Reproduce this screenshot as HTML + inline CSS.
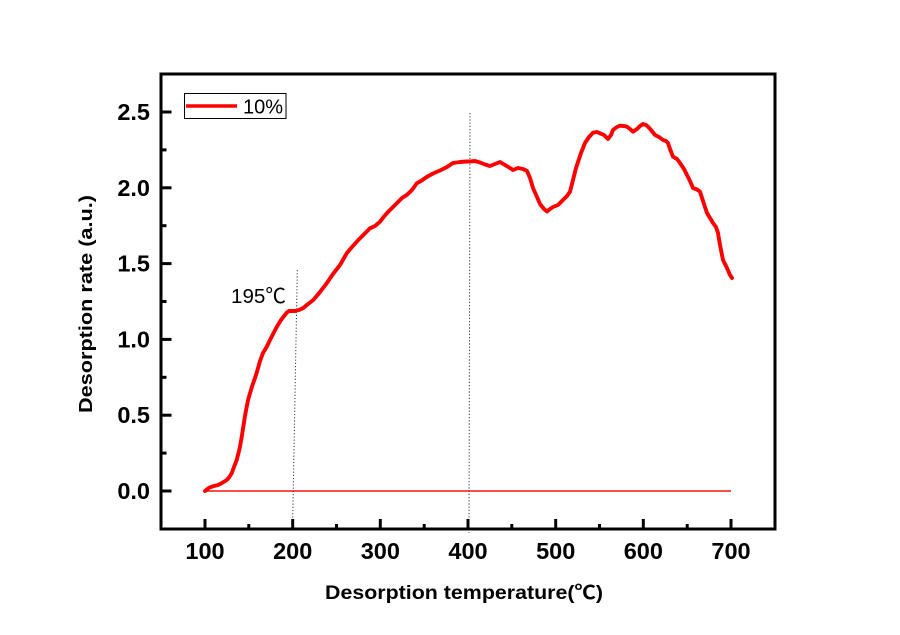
<!DOCTYPE html>
<html>
<head>
<meta charset="utf-8">
<style>
  html, body { margin:0; padding:0; background:#fff; }
  svg { display:block; }
  text { font-family: "Liberation Sans", "Noto Sans CJK SC", sans-serif; }
</style>
</head>
<body>
<svg width="900" height="635" viewBox="0 0 900 635" xmlns="http://www.w3.org/2000/svg">
  <rect width="900" height="635" fill="#fff"/>

  <!-- zero baseline -->
  <line x1="205" y1="491" x2="731" y2="491" stroke="#ff1010" stroke-width="1.6"/>

  <!-- dotted guide lines -->
  <line x1="297.3" y1="270" x2="292.5" y2="530" stroke="#333" stroke-width="1" stroke-dasharray="1.2,2"/>
  <line x1="470" y1="113" x2="469" y2="533" stroke="#333" stroke-width="1" stroke-dasharray="1.2,2"/>

  <!-- curve -->
  <polyline fill="none" stroke="#ff0000" stroke-width="3.9" stroke-linejoin="round" stroke-linecap="round" points="
205,491 208,488.5 210,487.3 214,486 218,485 222,483 226.7,480 229,477.5 231.7,473.3 234,467 236.7,460 238.5,453 240,446.7 241.7,437 243.3,426.7 245,416 246.7,406.7 248.3,399 250,393.3 252.5,385 255,378 257.5,370 260,361 263,353 266.7,346.7 271,338 276.7,327 281,320 286.7,312.7 289,311 292,311 295,311 299,310 303.3,308 308,304 313.3,300 320,292 326.7,283.3 333,274 340,265 346.7,253.3 352,247 358.3,240 363.3,235 370,228.3 375,226 380,221.7 384,216.5 388.3,211.7 393,207 398.3,201.7 402,198 406.7,195 410,192 413.3,188.3 416.7,183.3 421,181 426.7,177 433,173.5 440,170.5 447,167 453,163 460,162 466,161.5 470,161.5 475,161 480,162.5 485,164.5 490,166 495,164 500,162 505,165 510,168 513,170 518,168 523,169 527,171 530,178 533,188 537,197 540,204 544,209 547,211.5 550,209 553,207 558,205 563,200 567,196 570,191.7 573,180 576,168 578,162 581,153 585,143 589,137 593,132.7 597,132 600,133.3 604,135 608,139 611,135 613,130 617,127 620,125.7 624,126 627,126.7 630,129 633,131.7 637,129 640,126 643,124 646,125 648,126.7 651,130 655,135 659,137 663,140 666,141 668,143 670,149 673,156.7 677,159 680,163 684,169 687,175 690,181 693,188 697,189.5 700,191.7 703,201 707,213 710,218 713,223 716,227 718,233 720,245 723,260 727,268 730,275 732,278"/>

  <!-- frame -->
  <rect x="161" y="74" width="614" height="455" fill="none" stroke="#000" stroke-width="3"/>

  <!-- x ticks -->
  <g stroke="#000" stroke-width="3">
    <line x1="205" y1="529" x2="205" y2="519"/>
    <line x1="292.7" y1="529" x2="292.7" y2="519"/>
    <line x1="380.3" y1="529" x2="380.3" y2="519"/>
    <line x1="468" y1="529" x2="468" y2="519"/>
    <line x1="555.7" y1="529" x2="555.7" y2="519"/>
    <line x1="643.3" y1="529" x2="643.3" y2="519"/>
    <line x1="731" y1="529" x2="731" y2="519"/>
    <line x1="248.8" y1="529" x2="248.8" y2="524"/>
    <line x1="336.5" y1="529" x2="336.5" y2="524"/>
    <line x1="424.2" y1="529" x2="424.2" y2="524"/>
    <line x1="511.8" y1="529" x2="511.8" y2="524"/>
    <line x1="599.5" y1="529" x2="599.5" y2="524"/>
    <line x1="687.2" y1="529" x2="687.2" y2="524"/>
  </g>
  <!-- y ticks -->
  <g stroke="#000" stroke-width="3">
    <line x1="161" y1="491" x2="171.5" y2="491"/>
    <line x1="161" y1="415.2" x2="171.5" y2="415.2"/>
    <line x1="161" y1="339.4" x2="171.5" y2="339.4"/>
    <line x1="161" y1="263.6" x2="171.5" y2="263.6"/>
    <line x1="161" y1="187.8" x2="171.5" y2="187.8"/>
    <line x1="161" y1="112" x2="171.5" y2="112"/>
    <line x1="161" y1="453.1" x2="166.5" y2="453.1"/>
    <line x1="161" y1="377.3" x2="166.5" y2="377.3"/>
    <line x1="161" y1="301.5" x2="166.5" y2="301.5"/>
    <line x1="161" y1="225.7" x2="166.5" y2="225.7"/>
    <line x1="161" y1="149.9" x2="166.5" y2="149.9"/>
  </g>

  <!-- x tick labels -->
  <g font-size="23.5" font-weight="bold" text-anchor="middle" fill="#000">
    <text x="205" y="559">100</text>
    <text x="292.7" y="559">200</text>
    <text x="380.3" y="559">300</text>
    <text x="468" y="559">400</text>
    <text x="555.7" y="559">500</text>
    <text x="643.3" y="559">600</text>
    <text x="731" y="559">700</text>
  </g>
  <!-- y tick labels -->
  <g font-size="23.5" font-weight="bold" text-anchor="end" fill="#000">
    <text x="150" y="499">0.0</text>
    <text x="150" y="423.2">0.5</text>
    <text x="150" y="347.4">1.0</text>
    <text x="150" y="271.6">1.5</text>
    <text x="150" y="195.8">2.0</text>
    <text x="150" y="120">2.5</text>
  </g>

  <!-- axis titles -->
  <text x="325" y="599" font-size="19.5" font-weight="bold" textLength="278" lengthAdjust="spacingAndGlyphs">Desorption temperature(℃)</text>
  <text transform="translate(92,413) rotate(-90)" x="0" y="0" font-size="18.5" font-weight="bold" textLength="218" lengthAdjust="spacingAndGlyphs">Desorption rate (a.u.)</text>

  <!-- annotation -->
  <text x="231" y="303" font-size="20.5" fill="#000" textLength="55" lengthAdjust="spacingAndGlyphs">195℃</text>

  <!-- legend -->
  <rect x="184.5" y="93.5" width="101.5" height="25" fill="#fff" stroke="#000" stroke-width="1"/>
  <line x1="186" y1="106" x2="237" y2="106" stroke="#ff0000" stroke-width="3.5"/>
  <text x="243" y="113.5" font-size="20" fill="#000">10%</text>
</svg>
</body>
</html>
